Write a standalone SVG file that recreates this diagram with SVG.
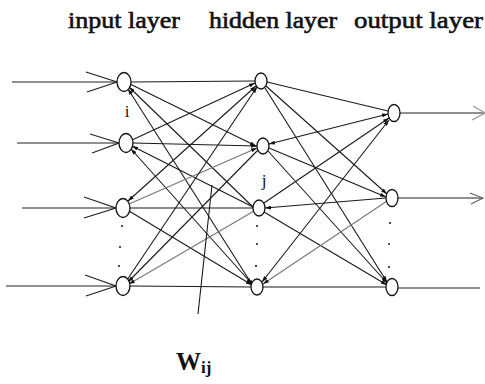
<svg xmlns="http://www.w3.org/2000/svg" width="485" height="384" viewBox="0 0 485 384">
<style>
.t{font-family:"Liberation Serif","Times New Roman",serif;fill:#111}
.h{font-size:23px;stroke:#111;stroke-width:0.6}
.c line{stroke:#1a1a1a;stroke-width:1.1}
.c .g{stroke:#777}
.n ellipse{fill:#fff;stroke:#111;stroke-width:1.3}
.d{fill:#111}
.io line, .io polyline{stroke:#222;stroke-width:1.2;fill:none}
</style>
<defs>
<marker id="a" viewBox="0 0 6 4" refX="6" refY="2" markerWidth="6" markerHeight="4" markerUnits="userSpaceOnUse" orient="auto-start-reverse">
<path d="M0,0 L6,2 L0,4 z" fill="#111"/>
</marker>
</defs>
<rect width="485" height="384" fill="#fff"/>
<text class="t h" x="68" y="28" textLength="112" lengthAdjust="spacingAndGlyphs">input layer</text>
<text class="t h" x="209" y="28" textLength="128" lengthAdjust="spacingAndGlyphs">hidden layer</text>
<text class="t h" x="354" y="28" textLength="129" lengthAdjust="spacingAndGlyphs">output layer</text>

<g id="inputs" class="io">
<line x1="12" y1="82" x2="117" y2="82"/><polyline points="86,72 117,82 87,92"/>
<line x1="17" y1="143" x2="119" y2="143"/><polyline points="90,134 119,143 92,153"/>
<line x1="22" y1="208" x2="116" y2="208"/><polyline points="84,197 116,208 84,218"/>
<line x1="6" y1="286" x2="116" y2="286"/><polyline points="85,275 116,286 86,296"/>
</g>
<g id="outputs" class="io">
<line x1="400" y1="113" x2="485" y2="113"/><polyline points="473,106 485,113 472,120" style="stroke:#999"/>
<line x1="398" y1="198" x2="483" y2="198"/><polyline points="470,193 483,198 471,204" style="stroke:#666"/>
<line x1="398" y1="288" x2="480" y2="288"/>
</g>

<g id="connectors" class="c">
<line x1="131" y1="82" x2="255" y2="81"/>
<line x1="130" y1="84" x2="256" y2="146" marker-end="url(#a)"/>
<line x1="129" y1="87" x2="254" y2="208" marker-start="url(#a)"/>
<line x1="128" y1="89" x2="253" y2="286" marker-start="url(#a)" marker-end="url(#a)"/>
<line x1="132" y1="140" x2="255" y2="83" marker-end="url(#a)"/>
<line x1="133" y1="143" x2="257" y2="146" marker-end="url(#a)"/>
<line x1="132" y1="146" x2="253" y2="207" marker-start="url(#a)"/>
<line x1="131" y1="149" x2="252" y2="284" marker-start="url(#a)" marker-end="url(#a)"/>
<line x1="128" y1="201" x2="256" y2="86" marker-start="url(#a)" marker-end="url(#a)"/>
<line class="g" x1="129" y1="204" x2="257" y2="148" marker-end="url(#a)"/>
<line x1="130" y1="208" x2="253" y2="208"/>
<line x1="129" y1="211" x2="252" y2="285" marker-end="url(#a)"/>
<line x1="127" y1="280" x2="257" y2="87" marker-end="url(#a)"/>
<line x1="128" y1="282" x2="258" y2="150" marker-start="url(#a)"/>
<line class="g" x1="129" y1="284" x2="254" y2="211" marker-start="url(#a)"/>
<line x1="130" y1="286" x2="251" y2="287"/>

<line x1="267" y1="82" x2="388" y2="111"/>
<line x1="266" y1="86" x2="387" y2="194" marker-end="url(#a)"/>
<line x1="265" y1="88" x2="387" y2="282" marker-end="url(#a)"/>
<line x1="269" y1="144" x2="388" y2="114" marker-start="url(#a)" marker-end="url(#a)"/>
<line x1="269" y1="148" x2="386" y2="197" marker-end="url(#a)"/>
<line x1="268" y1="151" x2="387" y2="283" marker-end="url(#a)"/>
<line x1="264" y1="203" x2="389" y2="118" marker-end="url(#a)"/>
<line x1="265" y1="208" x2="386" y2="198" marker-start="url(#a)"/>
<line x1="264" y1="212" x2="387" y2="285" marker-end="url(#a)"/>
<line x1="262" y1="282" x2="389" y2="120" marker-start="url(#a)" marker-end="url(#a)"/>
<line class="g" x1="263" y1="284" x2="387" y2="201" marker-start="url(#a)"/>
<line x1="263" y1="287" x2="386" y2="287"/>

<line x1="212" y1="185" x2="198" y2="314"/>
</g>

<g id="input-layer" class="n">
<g id="i1"><ellipse cx="124" cy="82" rx="7" ry="9.5"/></g>
<g id="i2"><ellipse cx="126" cy="143" rx="7" ry="9.5"/></g>
<g id="i3"><ellipse cx="123" cy="208" rx="7" ry="9.5"/></g>
<g id="i4"><ellipse cx="123" cy="286" rx="7" ry="9.5"/></g>
</g>
<g id="hidden-layer" class="n">
<g id="h1"><ellipse cx="261" cy="81" rx="6" ry="8"/></g>
<g id="h2"><ellipse cx="263" cy="146" rx="6" ry="8"/></g>
<g id="h3"><ellipse cx="259" cy="208" rx="6" ry="8"/></g>
<g id="h4"><ellipse cx="257" cy="287" rx="6" ry="8"/></g>
</g>
<g id="output-layer" class="n">
<g id="o1"><ellipse cx="394" cy="113" rx="6" ry="8.5"/></g>
<g id="o2"><ellipse cx="392" cy="198" rx="6" ry="8.5"/></g>
<g id="o3"><ellipse cx="392" cy="287" rx="6" ry="8.5"/></g>
</g>

<g id="dots" class="d">
<circle cx="122" cy="226" r="1"/><circle cx="120" cy="247" r="1"/><circle cx="119" cy="266" r="1"/>
<circle cx="257" cy="226" r="1"/><circle cx="257" cy="244" r="1"/><circle cx="256" cy="266" r="1"/>
<circle cx="390" cy="223" r="1"/><circle cx="389" cy="244" r="1"/><circle cx="389" cy="267" r="1"/>
</g>

<text class="t" x="127" y="117" font-size="17" text-anchor="middle">i</text>
<text class="t" x="264" y="186" font-size="17" text-anchor="middle">j</text>
<text class="t" x="176" y="370" font-size="25" font-weight="bold">W<tspan font-size="17" dy="3">ij</tspan></text>
</svg>
